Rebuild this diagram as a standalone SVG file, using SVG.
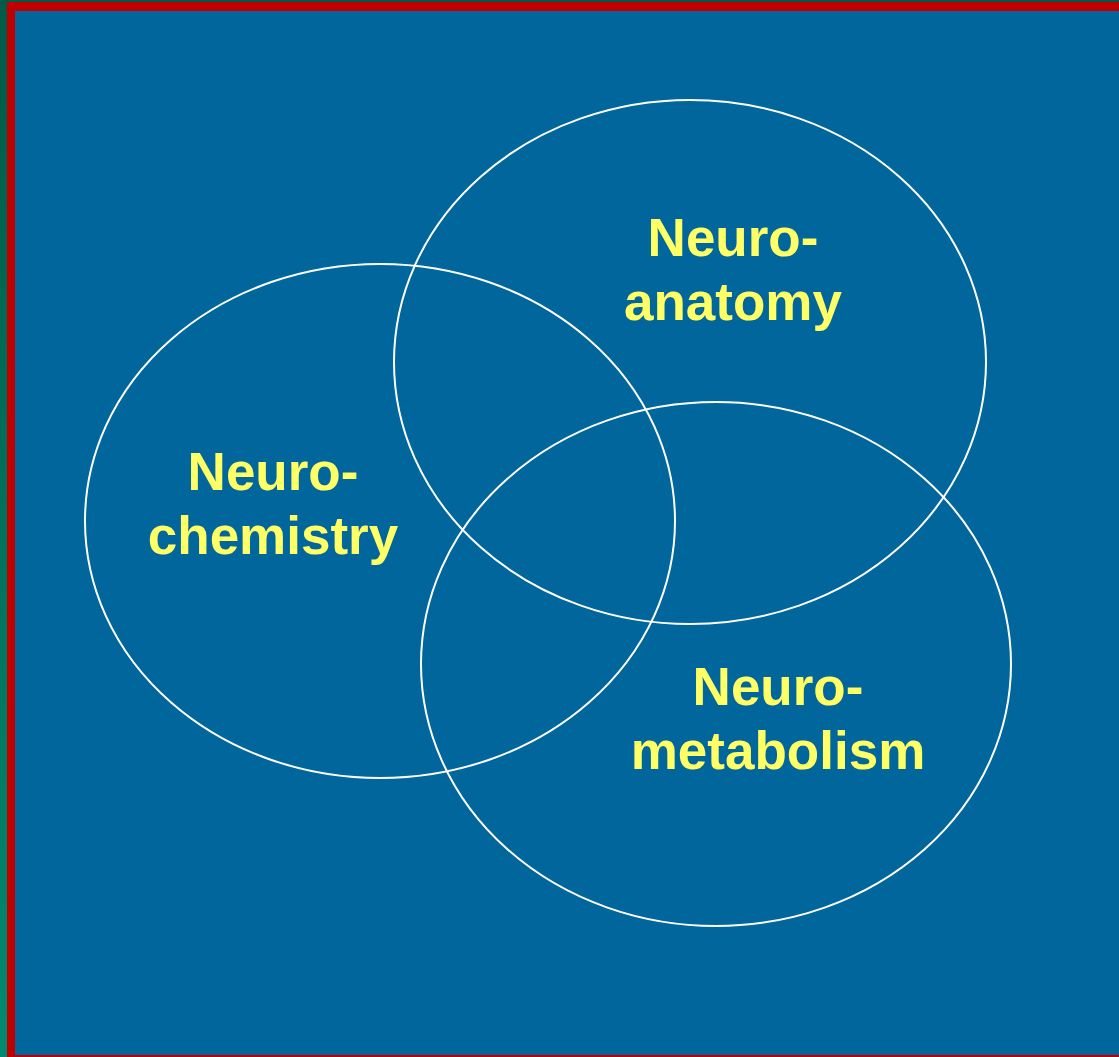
<svg xmlns="http://www.w3.org/2000/svg" width="1119" height="1057" viewBox="0 0 1119 1057">
<defs>
<linearGradient id="g" x1="0" y1="0" x2="0" y2="1"><stop offset="0" stop-color="#005a48"/><stop offset="1" stop-color="#008a70"/></linearGradient>
<style>
.c{fill:none;stroke:#ffffff;stroke-width:2}
.t{font-family:"Liberation Sans",Arial,sans-serif;font-weight:bold;font-size:53px;fill:#ffff66;text-anchor:middle}
</style>
</defs>
<rect x="0" y="0" width="1119" height="1057" fill="url(#g)"/>
<rect x="7" y="2" width="1112" height="1055" fill="#c00000"/>
<rect x="15" y="11" width="1104" height="1044" fill="#00669b"/>
<g id="chemistry">
<ellipse class="c" cx="380" cy="521" rx="295" ry="257"/>
<text class="t" x="273" y="490">Neuro-</text>
<text class="t" x="273" y="554">chemistry</text>
</g>
<g id="anatomy">
<ellipse class="c" cx="690" cy="362" rx="296" ry="262"/>
<text class="t" x="733" y="256">Neuro-</text>
<text class="t" x="733" y="320">anatomy</text>
</g>
<g id="metabolism">
<ellipse class="c" cx="716" cy="664" rx="295" ry="262"/>
<text class="t" x="778" y="705">Neuro-</text>
<text class="t" x="778" y="769">metabolism</text>
</g>
<g id="connectors"/>
</svg>
